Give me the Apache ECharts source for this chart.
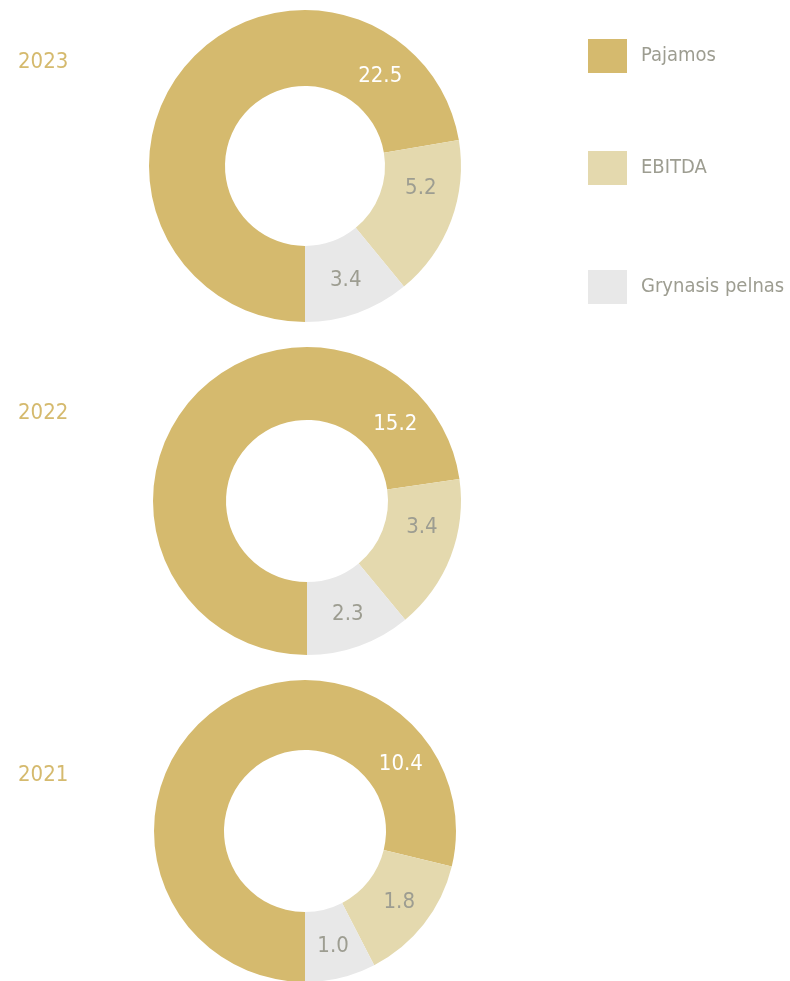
<!DOCTYPE html>
<html>
<head>
<meta charset="utf-8">
<script src="https://cdn.jsdelivr.net/npm/echarts@6/dist/echarts.min.js"></script>
<style>
  html, body { margin: 0; padding: 0; background: #fff; }
  #main { width: 790px; height: 981px; }
</style>
</head>
<body>
<div id="main"></div>
<script>
// duomenys
var years = ['2023', '2022', '2021'];
var categories = ['Pajamos', 'EBITDA', 'Grynasis pelnas'];
var pajamos = [22.5, 15.2, 10.4];
var ebitda = [5.2, 3.4, 1.8];
var grynasisPelnas = [3.4, 2.3, 1.0];

var colors = ['#d5ba6e', '#e4d9ae', '#e8e8e8'];
var font = "'DejaVu Sans Condensed', sans-serif";
var grayText = '#9d9d91';

// kiekvieno žiedo vieta
var centers = [[305, 166], [307, 501], [305, 831]];
var radii = [[80, 156], [81, 154], [81, 151]];
var yearTop = [62, 413, 775];
// etikeciu kampai (laipsniais nuo virsaus, pagal laikrodzio rodykle) Pajamos ir EBITDA
var labelAngles = [[40, 101], [49, 103], [55, 127]];
var labelR = [117, 118];

var series = [];
var titles = [];
for (var i = 0; i < years.length; i++) {
    (function (i) {
        var vals = [pajamos[i], ebitda[i], grynasisPelnas[i]];
        var data = [];
        for (var k = 0; k < categories.length; k++) {
            data.push({
                name: categories[k],
                value: vals[k],
                itemStyle: { color: colors[k] },
                label: { color: k == 0 ? '#ffffff' : grayText }
            });
        }
        series.push({
            name: years[i],
            type: 'pie',
            center: centers[i],
            radius: radii[i],
            startAngle: 270,
            clockwise: true,
            avoidLabelOverlap: false,
            silent: true,
            label: {
                show: true,
                position: 'inside',
                fontFamily: font,
                fontSize: 22,
                formatter: function (p) { return p.value.toFixed(1); }
            },
            labelLine: { show: false },
            labelLayout: function (params) {
                var idx = params.dataIndex;
                if (idx > 1) return {};
                var a = labelAngles[i][idx] * Math.PI / 180;
                return {
                    x: centers[i][0] + labelR[idx] * Math.sin(a),
                    y: centers[i][1] - labelR[idx] * Math.cos(a),
                    align: 'center',
                    verticalAlign: 'middle'
                };
            },
            data: data
        });
        titles.push({
            text: years[i],
            left: 18,
            top: yearTop[i] - 12,
            textStyle: {
                color: colors[0],
                fontFamily: font,
                fontWeight: 'normal',
                fontSize: 22,
                lineHeight: 24
            },
            padding: 0
        });
    })(i);
}

var legendTop = [39, 151, 270];
var legends = [];
for (var j = 0; j < categories.length; j++) {
    legends.push({
        data: [{ name: categories[j], itemStyle: { color: colors[j] } }],
        left: 588,
        top: legendTop[j],
        padding: 0,
        itemWidth: 39,
        itemHeight: 34,
        icon: 'rect',
        selectedMode: false,
        textStyle: {
            color: grayText,
            fontFamily: font,
            fontSize: 20,
            padding: [0, 0, 0, 9]
        }
    });
}

var option = {
    animation: false,
    backgroundColor: '#ffffff',
    title: titles,
    legend: legends,
    series: series
};

var chart = echarts.init(document.getElementById('main'));
chart.setOption(option);
</script>
</body>
</html>
